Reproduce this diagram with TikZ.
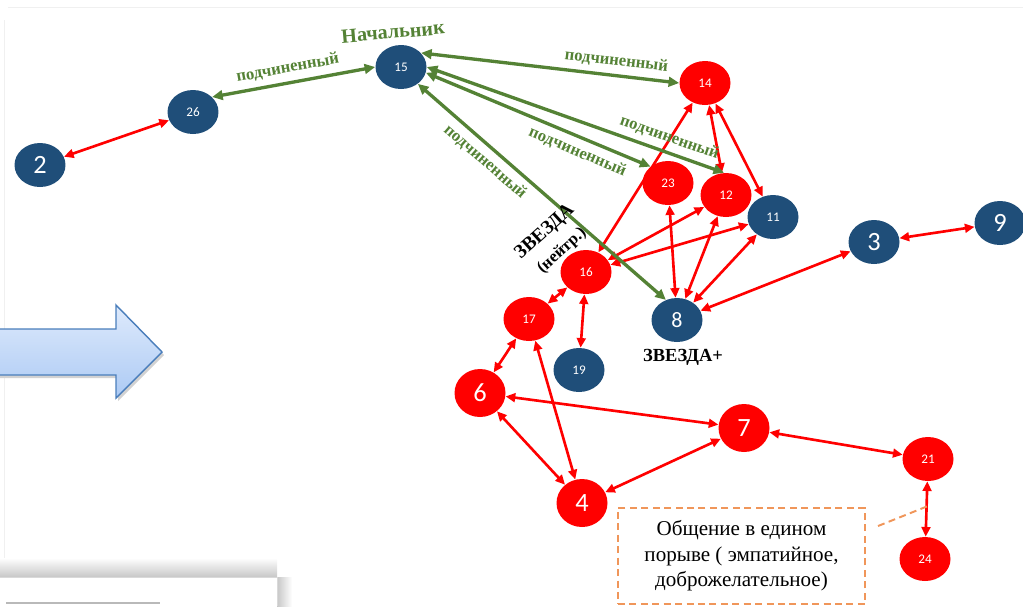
\documentclass[tikz,border=0pt]{standalone}
\usepackage{fontspec}
\setmainfont{Liberation Serif}
\newfontfamily\numfont{Carlito}
\usetikzlibrary{arrows.meta,shapes.geometric}

\definecolor{nodeblue}{RGB}{31,78,121}
\definecolor{linkgreen}{RGB}{84,130,53}
\definecolor{noteorange}{RGB}{240,150,90}
\definecolor{arrowtop}{RGB}{222,234,252}
\definecolor{arrowbot}{RGB}{172,202,244}
\definecolor{arrowedge}{RGB}{74,126,187}

\begin{document}
\begin{tikzpicture}[x=0.02cm,y=-0.02cm,
    person/.style={ellipse,minimum width=1.02cm,minimum height=0.88cm,inner sep=0pt,
      text=white,font=\numfont\fontsize{7.5}{9}\selectfont},
    bigperson/.style={person,font=\numfont\fontsize{15}{18}\selectfont},
    redlink/.style={{Triangle[length=5.5pt,width=5pt]}-{Triangle[length=5.5pt,width=5pt]},
      red,line width=1.5pt},
    greenlink/.style={{Triangle[length=6pt,width=5.5pt]}-{Triangle[length=6pt,width=5.5pt]},
      linkgreen,line width=1.9pt},
    sublabel/.style={sloped,font=\bfseries\fontsize{9.5}{11}\selectfont,text=linkgreen},
    starlabel/.style={font=\bfseries\fontsize{10.5}{12}\selectfont},
    notebox/.style={draw=noteorange,line width=1.1pt,dash pattern=on 4pt off 2.5pt,
      minimum width=4.94cm,minimum height=1.92cm,align=center,
      font=\fontsize{12}{14.5}\selectfont}]
  \useasboundingbox (0,0) rectangle (1023,606);

  % Page edges
  \draw[gray!12] (8,7) -- (1023,7);
  \draw[gray!12] (4,20) -- (4,567);

  % Block arrow
  \fill[gray!35] (0,332) -- (118,332) -- (118,308) -- (164,355) -- (118,401) -- (118,378) -- (0,378) -- cycle;
  \draw[arrowedge,line width=0.8pt,top color=arrowtop,bottom color=arrowbot]
    (-5,329) -- (116,329) -- (116,305) -- (162,352) -- (116,398) -- (116,375) -- (-5,375);

  % Second page at the bottom
  \shade[top color=white,bottom color=black!22] (0,558) rectangle (277,577);
  \shade[left color=black!22,right color=white] (277,577) rectangle (292,606);
  \fill[white] (0,577) rectangle (277,606);
  \draw[gray!30] (0,577) -- (277,577) -- (277,606);
  \draw[gray!55,line width=0.8pt] (6,603) -- (160,603);

  % People
  \foreach \name/\x/\y in {26/193/112,15/401/67,11/773/217,19/579/370}
    \node[person,fill=nodeblue] (n\name) at (\x,\y) {\name};
  \foreach \name/\x/\y in {2/40/165,3/874/242,9/1000/223}
    \node[bigperson,fill=nodeblue] (n\name) at (\x,\y) {\name};
  \node[bigperson,fill=nodeblue,font=\numfont\fontsize{12.5}{15}\selectfont] (n8) at (677,320) {8};
  \foreach \name/\x/\y in {14/705/83,23/668/183,12/726/195,16/586/272,17/529/319,21/928/459,24/925/559}
    \node[person,fill=red] (n\name) at (\x,\y) {\name};
  \foreach \name/\x/\y in {6/480/393,7/744/428,4/582/503}
    \node[bigperson,fill=red,minimum height=0.96cm] (n\name) at (\x,\y) {\name};

  % Mutual links
  \foreach \a/\b in {2/26,14/16,14/12,14/11,23/8,12/8,12/16,11/16,11/8,3/8,3/9,
                     16/17,16/19,17/6,17/4,6/7,6/4,4/7,7/21,21/24}
    \draw[redlink] (n\a) -- (n\b);

  % Links to the boss
  \draw[greenlink] (n26.38) -- (n15.west) node[sublabel,above,pos=0.48] {подчиненный};
  \draw[greenlink] (n15.35) -- (n14.west) node[sublabel,above,pos=0.75] {подчиненный};
  \draw[greenlink] (n15.0) -- (n12.95) node[sublabel,above,pos=0.8] {подчиненный};
  \draw[greenlink] (n15.-13) -- (n23.137) node[sublabel,below,pos=0.7] {подчиненный};
  \draw[greenlink] (n15.-45) -- (n8.119) node[sublabel,below,pos=0.31] {подчиненный};

  % Labels
  \node[font=\bfseries\fontsize{11.5}{13}\selectfont,text=linkgreen,rotate=5] (boss) at (393,32) {Начальник};
  \node[font=\bfseries\fontsize{11}{13}\selectfont,rotate=42] (star) at (545,232) {ЗВЕЗДА};
  \node[font=\bfseries\fontsize{9.5}{11}\selectfont,rotate=42] (neutral) at (562,251) {(нейтр.)};
  \node[starlabel] (plus) at (683,357) {ЗВЕЗДА+};

  % Note
  \node[notebox] (note) at (741.5,556) {Общение в едином\\порыве ( эмпатийное,\\доброжелательное)};
  \coordinate (notetip) at (878,526);
  \coordinate (linktip) at (928,506);
  \draw[noteorange,line width=1.1pt,dash pattern=on 4pt off 2.5pt] (notetip) -- (linktip);
\end{tikzpicture}
\end{document}
